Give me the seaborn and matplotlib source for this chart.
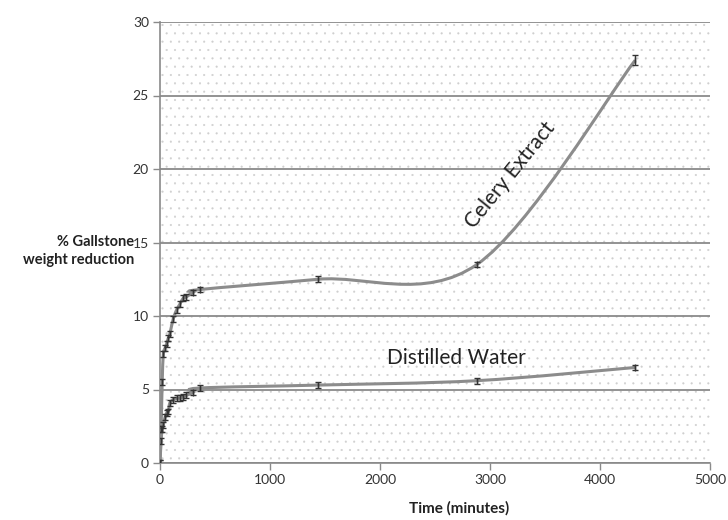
import numpy as np
import pandas as pd
import matplotlib
matplotlib.use("Agg")
import matplotlib.pyplot as plt
import seaborn as sns
from matplotlib.path import Path
from matplotlib.patches import PathPatch, Rectangle

# ---- data ----
times = [0, 10, 20, 30, 45, 60, 75, 90, 120, 150, 180, 210, 240, 300, 360, 1440, 2880, 4320]
celery = [0, 2.3, 5.5, 7.4, 7.8, 8.1, 8.5, 8.8, 9.8, 10.4, 10.8, 11.2, 11.3, 11.6, 11.8, 12.5, 13.5, 27.4]
water = [0, 1.5, 2.3, 2.6, 3.1, 3.4, 3.5, 4.1, 4.3, 4.4, 4.4, 4.5, 4.6, 4.8, 5.1, 5.3, 5.6, 6.5]
celery_err = [0.2] * 17 + [0.35]
water_err = [0.2] * 18
series_names = ["Celery Extract", "Distilled Water"]
x_ticks = [0, 1000, 2000, 3000, 4000, 5000]
y_ticks = [0, 5, 10, 15, 20, 25, 30]

sns.set_theme(style="white")
plt.rcParams["font.family"] = ["Lato", "DejaVu Sans"]
plt.rcParams["hatch.linewidth"] = 0.3

df = pd.DataFrame({
    "time": times * 2,
    "value": celery + water,
    "series": [series_names[0]] * len(times) + [series_names[1]] * len(times),
})

fig = plt.figure(figsize=(7.28, 5.2), dpi=100)
ax = fig.add_axes([160 / 728, 1 - 463 / 520, 550 / 728, 441 / 520])

# dotted plot-area background
bg = Rectangle((0, 0), 1, 1, transform=ax.transAxes, facecolor="white",
               edgecolor="#cfcfcf", hatch="..", lw=0, zorder=0)
ax.add_patch(bg)

ax.set_xlim(0, 5000)
ax.set_ylim(0, 30)
ax.set_xticks(x_ticks)
ax.set_yticks(y_ticks)
ax.set_axisbelow(True)
ax.yaxis.grid(True, color="#8a8a8a", lw=1.3)
ax.xaxis.grid(False)


def smooth_path(x, y):
    pts = np.column_stack([x, y]).astype(float)
    n = len(pts)
    verts = [pts[0]]
    codes = [Path.MOVETO]
    for i in range(n - 1):
        p0 = pts[i - 1] if i > 0 else pts[i]
        p1 = pts[i]
        p2 = pts[i + 1]
        p3 = pts[i + 2] if i + 2 < n else pts[i + 1]
        c1 = p1 + (p2 - p0) / 6.0
        c2 = p2 - (p3 - p1) / 6.0
        verts += [c1, c2, p2]
        codes += [Path.CURVE4] * 3
    return Path(verts, codes)


for vals in (celery, water):
    patch = PathPatch(smooth_path(times, vals), facecolor="none",
                      edgecolor="#8c8c8c", lw=2.2, transform=ax.transData, zorder=2)
    ax.add_patch(patch)

# error bars
ax.errorbar(times, celery, yerr=celery_err, fmt="none", ecolor="#333333",
            elinewidth=1.0, capsize=2.5, capthick=1.0, zorder=3)
ax.errorbar(times, water, yerr=water_err, fmt="none", ecolor="#333333",
            elinewidth=1.0, capsize=2.5, capthick=1.0, zorder=3)
sns.scatterplot(data=df, x="time", y="value", hue="series",
                palette=["#333333", "#333333"], marker="|", s=20,
                linewidth=1.0, legend=False, ax=ax, zorder=3)

for s in ["top", "right"]:
    ax.spines[s].set_visible(False)
for s in ["left", "bottom"]:
    ax.spines[s].set_color("#8a8a8a")
    ax.spines[s].set_linewidth(1.2)

ax.tick_params(axis="both", direction="out", length=5, width=1,
               color="#8a8a8a", labelsize=10, labelcolor="#333333", pad=3,
               left=True, bottom=True)
ax.set_xlabel("")
ax.set_ylabel("")

fig.text(134 / 728, 1 - 251 / 520, "% Gallstone\nweight reduction",
         ha="right", va="center", multialignment="right",
         fontsize=10.5, fontweight="bold", color="#222222", linespacing=1.3)
fig.text(459 / 728, 1 - 508 / 520, "Time (minutes)", ha="center", va="center",
         fontsize=11, fontweight="bold", color="#222222")

ax.text(3180, 19.6, series_names[0], rotation=51, rotation_mode="anchor",
        ha="center", va="center", fontsize=15, color="#222222")
ax.text(2690, 7.15, series_names[1], ha="center", va="center",
        fontsize=15, color="#222222")

fig.savefig("out.png", dpi=100, facecolor="white")
